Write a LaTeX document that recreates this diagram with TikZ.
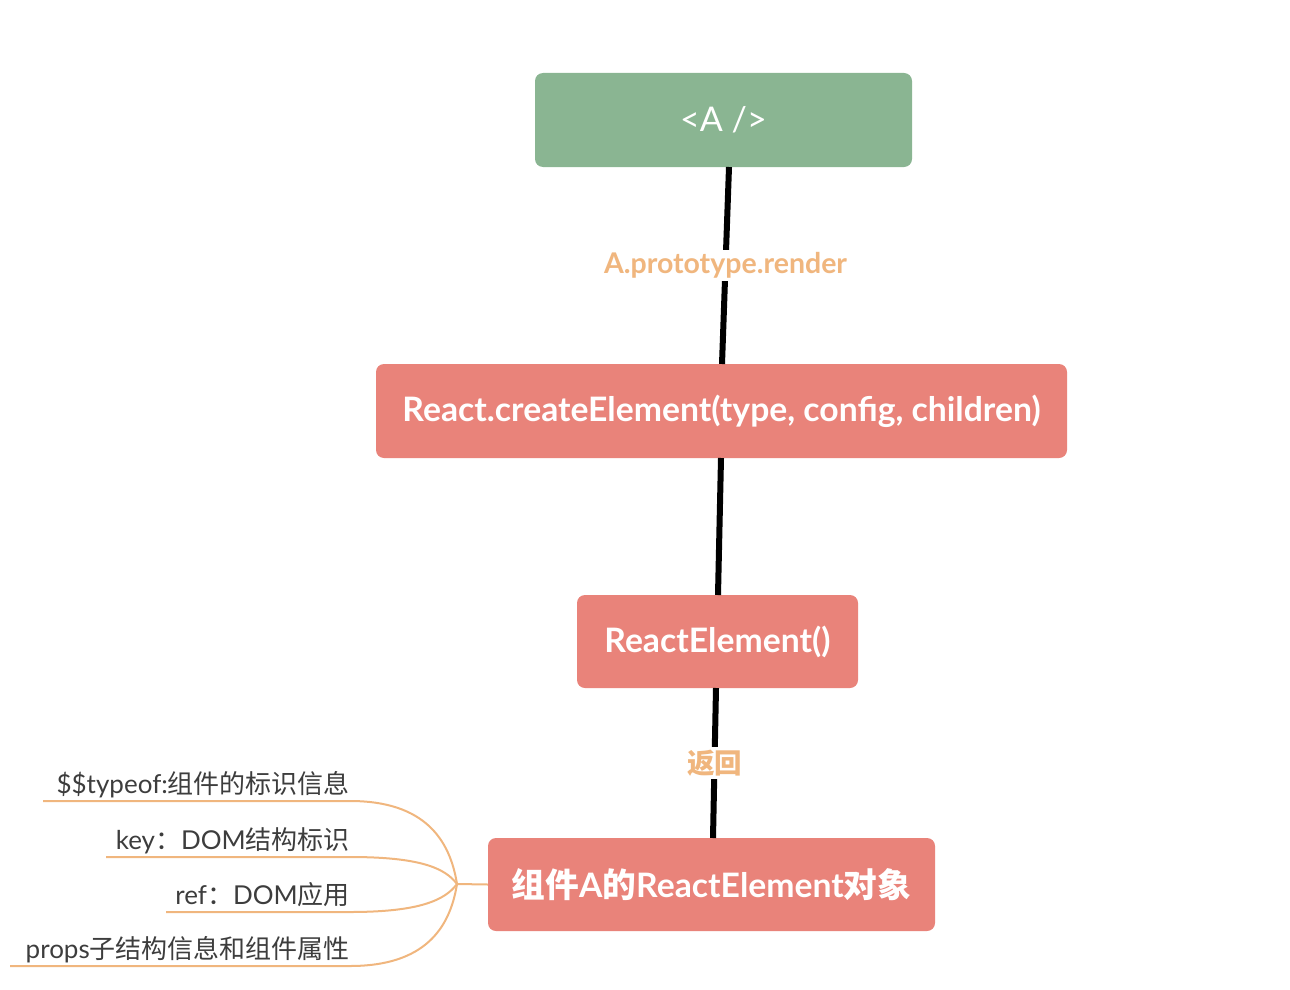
\documentclass[tikz,border=0pt]{standalone}
\usepackage{fontspec}
\setmainfont{Lato}
\newfontfamily\cjk{Noto Sans CJK SC}
\definecolor{boxgreen}{HTML}{8AB592}
\definecolor{boxred}{HTML}{E9837A}
\definecolor{lineorange}{HTML}{F0B67E}
\definecolor{labtext}{HTML}{3D3D3D}
\tikzset{
  mainbox/.style={fill=boxred, rounded corners=8pt, text=white, font=\fontsize{33.7}{36}\selectfont\bfseries, inner sep=0pt},
  topbox/.style={fill=boxgreen, rounded corners=8pt, text=white, font=\fontsize{34}{36}\selectfont, inner sep=0pt},
  link/.style={line width=6pt, black},
  edgelabel/.style={fill=white, text=lineorange, font=\fontsize{28.5}{30}\selectfont\bfseries, inner sep=3pt},
  branch/.style={lineorange, line width=2pt},
  leaf/.style={text=labtext, font=\fontsize{26}{28}\selectfont, anchor=base east, inner sep=0pt}
}
\begin{document}
\begin{tikzpicture}[x=1pt,y=-1pt]
\useasboundingbox (0,0) rectangle (1290,990);
% boxes
\node[topbox, minimum width=377pt, minimum height=94pt] (A) at (723.5,120) {<A />};
\node[mainbox, minimum width=691pt, minimum height=94pt] (C) at (721.5,411) {React.createElement(type, config, children)};
\node[mainbox, minimum width=281pt, minimum height=93pt] (R) at (717.5,641.5) {ReactElement()};
\node[mainbox, minimum width=447pt, minimum height=93pt] (O) at (711.5,884.5) {{\cjk\bfseries 组件}A{\cjk\bfseries 的}ReactElement{\cjk\bfseries 对象}};
% connectors
\coordinate (a1) at (729,167);
\coordinate (c1) at (722,364);
\coordinate (c2) at (721,458);
\coordinate (r1) at (718,595);
\coordinate (r2) at (716,688);
\coordinate (o1) at (713,838);
\draw[link] (a1) -- (c1) node[edgelabel, pos=0.5] (L1) {A.prototype.render};
\draw[link] (c2) -- (r1);
\draw[link] (r2) -- (o1) node[edgelabel, pos=0.5, font=\cjk\fontsize{27.5}{30}\selectfont\bfseries] (L2) {返回};
% leaves
\coordinate (J) at (457,884);
\draw[branch] (O.west) -- (J);
\node[leaf] (T1) at (350,793) {\$\${}typeof:{\cjk 组件的标识信息}};
\node[leaf] (T2) at (350,849) {key{\cjk ：}DOM{\cjk 结构标识}};
\node[leaf] (T3) at (350,904) {ref{\cjk ：}DOM{\cjk 应用}};
\node[leaf] (T4) at (350,958) {props{\cjk 子结构信息和组件属性}};
\coordinate (u1) at (43,801);
\coordinate (u2) at (106,857);
\coordinate (u3) at (166,912);
\coordinate (u4) at (10,966);
\draw[branch] (u1) -- (350,801) .. controls (425,801) and (450,840) .. (J);
\draw[branch] (u2) -- (350,857) .. controls (420,857) and (445,868) .. (J);
\draw[branch] (u3) -- (350,912) .. controls (420,912) and (445,900) .. (J);
\draw[branch] (u4) -- (350,966) .. controls (425,966) and (450,928) .. (J);
\end{tikzpicture}
\end{document}
